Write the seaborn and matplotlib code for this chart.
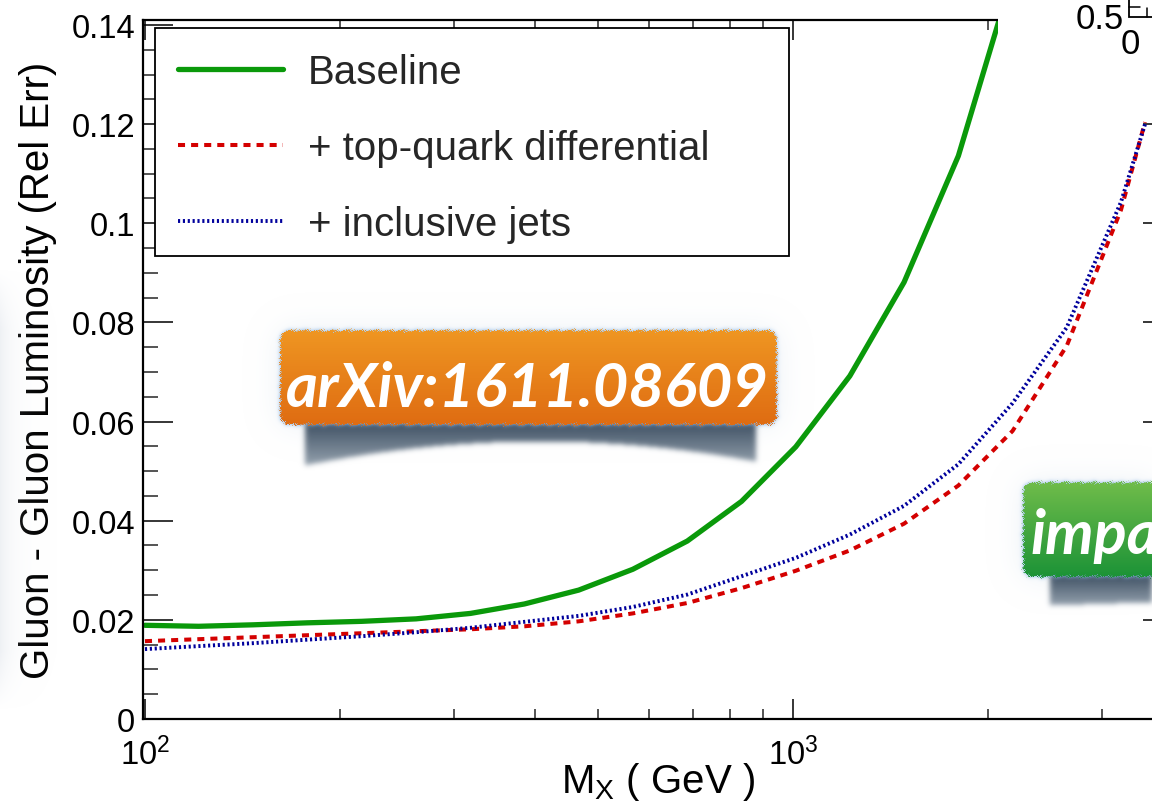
import numpy as np
import pandas as pd
import matplotlib
matplotlib.use("Agg")
import matplotlib.pyplot as plt
import seaborn as sns
from matplotlib.lines import Line2D
from matplotlib.patches import Rectangle
from matplotlib.ticker import MultipleLocator, NullFormatter

# ---------------------------------------------------------------- data
mass_gev = [100, 121, 147, 178, 216, 262, 318, 385, 467, 566, 687, 833,
            1010, 1224, 1484, 1800, 2182, 2646, 3208, 3494]
baseline = [0.0189, 0.0187, 0.0190, 0.0194, 0.0197, 0.0202, 0.0213, 0.0232,
            0.0260, 0.0302, 0.0359, 0.0439, 0.0549, 0.0692, 0.0881, 0.1136,
            0.1500]
top_diff = [0.0157, 0.0161, 0.0165, 0.0169, 0.0173, 0.0177, 0.0181, 0.0187,
            0.0197, 0.0213, 0.0234, 0.0264, 0.0299, 0.0340, 0.0394, 0.0471,
            0.0581, 0.0753, 0.1027, 0.1204]
incl_jets = [0.0141, 0.0147, 0.0153, 0.0160, 0.0167, 0.0175, 0.0184, 0.0196,
             0.0208, 0.0226, 0.0251, 0.0288, 0.0325, 0.0372, 0.0430, 0.0514,
             0.0637, 0.0790, 0.1043, 0.1200]

series_names = ["Baseline", "+ top-quark differential", "+ inclusive jets"]
series_colors = ["#0a990a", "#d40000", "#00009c"]
series_widths = [3.8, 2.9, 2.8]
series_dashes = ["", (1.75, 1.5), (0.55, 0.7)]

y_ticks = [0, 0.02, 0.04, 0.06, 0.08, 0.10, 0.12, 0.14]
y_tick_labels = ["0", "0.02", "0.04", "0.06", "0.08", "0.1", "0.12", "0.14"]
x_ticks = [100, 1000]
x_tick_labels = [r"$10^{2}$", r"$10^{3}$"]
x_minor_ticks = [200, 300, 400, 500, 600, 700, 800, 900, 2000, 3000]

badge_text = "arXiv:1611.08609"
badge2_text = "impact"

# ---------------------------------------------------------------- style
sns.set_theme(style="ticks")
plt.rcParams["font.family"] = ["Liberation Sans", "DejaVu Sans"]
plt.rcParams["mathtext.fontset"] = "custom"
plt.rcParams["mathtext.rm"] = "Liberation Sans"
plt.rcParams["mathtext.it"] = "Liberation Sans:italic"
plt.rcParams["mathtext.default"] = "regular"

W, H = 1152, 804
fig = plt.figure(figsize=(W / 100, H / 100), dpi=100)
fig.patch.set_facecolor("white")

# frame in pixel units: left 143, right 1173 (beyond the canvas), top 21, bottom 720
ax = fig.add_axes([143 / W, (H - 720) / H, (1173 - 143) / W, (720 - 21) / H])
ax.set_facecolor("white")

frames = []
for name, vals in zip(series_names, [baseline, top_diff, incl_jets]):
    frames.append(pd.DataFrame({"mass": mass_gev[:len(vals)], "err": vals, "fit": name}))
df = pd.concat(frames, ignore_index=True)

sns.lineplot(data=df, x="mass", y="err", hue="fit", style="fit", size="fit",
             hue_order=series_names, style_order=series_names, size_order=series_names,
             palette=dict(zip(series_names, series_colors)),
             dashes=dict(zip(series_names, series_dashes)),
             sizes=dict(zip(series_names, series_widths)),
             estimator=None, sort=False, legend=False, ax=ax)

ax.set_xscale("log")
ax.set_xlim(99.3, 3859)
ax.set_ylim(0, 0.141)

ax.set_xticks(x_ticks, x_tick_labels)
ax.set_xticks(x_minor_ticks, minor=True)
ax.xaxis.set_minor_formatter(NullFormatter())
ax.set_yticks(y_ticks, y_tick_labels)
ax.yaxis.set_minor_locator(MultipleLocator(0.005))

ax.tick_params(axis="y", which="major", length=21.6, width=1.1, direction="in",
               left=True, right=True, labelsize=23.5, pad=5.5, colors="black")
ax.tick_params(axis="y", which="minor", length=10.8, width=1.1, direction="in",
               left=True, right=True)
ax.tick_params(axis="x", which="major", length=14.4, width=1.1, direction="in",
               bottom=True, top=True, labelsize=23.5, pad=12.5, colors="black")
ax.tick_params(axis="x", which="minor", length=7.2, width=1.1, direction="in",
               bottom=True, top=True)
for sp in ax.spines.values():
    sp.set_linewidth(1.6)
    sp.set_color("black")
    sp.set_visible(True)

ax.set_xlabel(r"M$_{X}$ ( GeV )", fontsize=29, color="black")
ax.set_ylabel("Gluon - Gluon Luminosity (Rel Err)", fontsize=29, color="black")
ax.xaxis.set_label_coords(0.5, (720 - 761) / 699)
ax.yaxis.set_label_coords((57 - 143) / 1030, 0.5)

# legend box
leg_fs_px = 29 / 0.72
ax.add_patch(Rectangle((155 / W, 1 - 257 / H), (789 - 155) / W, (257 - 29) / H,
                       transform=fig.transFigure, facecolor="white",
                       edgecolor="black", linewidth=1.3, zorder=4, clip_on=False))
handles = [Line2D([], [], color=c, lw=w, linestyle="-" if d == "" else (0, d))
           for c, w, d in zip(series_colors, series_widths, series_dashes)]
leg = ax.legend(handles, series_names, loc="center left",
                bbox_to_anchor=(178 / W, 1 - 149 / H), bbox_transform=fig.transFigure,
                frameon=False, fontsize=29, borderpad=0, borderaxespad=0,
                handlelength=105 / leg_fs_px, handletextpad=25 / leg_fs_px,
                labelspacing=0.94)
leg.set_zorder(5)

# ---------------------------------------------------------------- badges layer
yy, xx = np.mgrid[0:H, 0:W].astype(float)
P = np.zeros((H, W, 3))
A = np.zeros((H, W))


def over(rgb, alpha):
    global P, A
    rgb = np.asarray(rgb, float)
    if rgb.ndim == 1:
        rgb = np.broadcast_to(rgb, (H, W, 3))
    a = alpha[..., None]
    P = rgb * a + P * (1 - a)
    A = alpha + A * (1 - alpha)


def blur(img, s):
    r = int(3 * s) + 1
    k = np.exp(-0.5 * (np.arange(-r, r + 1) / s) ** 2)
    k /= k.sum()
    out = np.apply_along_axis(lambda m: np.convolve(m, k, mode="same"), 0, img)
    out = np.apply_along_axis(lambda m: np.convolve(m, k, mode="same"), 1, out)
    return out


def rrect_sdf(x0, y0, x1, y1, r):
    cx, cy = (x0 + x1) / 2, (y0 + y1) / 2
    hx, hy = (x1 - x0) / 2 - r, (y1 - y0) / 2 - r
    qx = np.abs(xx - cx) - hx
    qy = np.abs(yy - cy) - hy
    outside = np.hypot(np.maximum(qx, 0), np.maximum(qy, 0))
    inside = np.minimum(np.maximum(qx, qy), 0)
    return outside + inside - r


rough = (1.3 * np.sin(xx * 1.9 + yy * 0.7) * np.sin(yy * 2.3 - xx * 0.4)
         + 0.8 * np.sin(xx * 0.45 + yy * 1.1) + 0.6 * np.sin(xx * 3.1 - yy * 2.7))


def hex_rgb(h):
    h = h.lstrip("#")
    return np.array([int(h[i:i + 2], 16) / 255 for i in (0, 2, 4)])


def badge(x0, y0, x1, y1, top_col, bot_col, sx0, sx1, s_bottom):
    d = rrect_sdf(x0, y0, x1, y1, 9) + rough
    solid = (d < 0).astype(float)
    # soft haze around the tag
    haze = blur(solid, 15)
    over((0.91, 0.935, 0.96), np.clip(haze * 1.6, 0, 1) * 0.55)
    # curled shadow underneath
    sm = ((xx >= sx0) & (xx <= sx1) & (yy >= y1 - 12) & (yy <= s_bottom(xx))).astype(float)
    sm = blur(sm, 2.6)
    bmax = s_bottom(np.array([sx0, sx1])).max()
    t = np.clip((yy - y1) / (bmax - y1), 0, 1)[..., None]
    shade = hex_rgb("#33465a") * (1 - t) + hex_rgb("#8a98a6") * t
    over(shade, sm * 0.92)
    # thin bluish rim
    rim = blur(solid, 2.0)
    over((0.55, 0.72, 0.90), np.clip(rim * 1.5, 0, 1) * 0.75)
    # the tag itself
    g = np.clip((yy - y0) / (y1 - y0), 0, 1)[..., None]
    fill = hex_rgb(top_col) * (1 - g) + hex_rgb(bot_col) * g
    over(fill, np.clip(0.5 - d, 0, 1))


# faint glow coming in from the left edge
edge = np.exp(-xx / 12.0) * np.clip((yy - 270) / 60, 0, 1) * np.clip((710 - yy) / 60, 0, 1)
over((0.86, 0.88, 0.91), edge * 0.45)

badge(280, 331, 776, 425, "#ef9622", "#df6c12", 305, 755,
      lambda x: 442 + 21 * ((x - 540) / 220) ** 2)
badge(1023, 483, 1420, 577, "#6fbc4a", "#1c9337", 1050, 1420,
      lambda x: 606 - 3 * np.clip((x - 1050) / 100, 0, 1))

rgba = np.zeros((H, W, 4))
rgba[..., 3] = A
rgba[..., :3] = np.where(A[..., None] > 1e-6, P / np.maximum(A[..., None], 1e-6), 0)

ov = fig.add_axes([0, 0, 1, 1], zorder=10)
ov.set_xlim(0, W)
ov.set_ylim(H, 0)
ov.axis("off")
ov.patch.set_alpha(0)
ov.imshow(np.clip(rgba, 0, 1), extent=(0, W, H, 0), interpolation="none", zorder=1)

tag_font = dict(family=["Lato", "Open Sans", "DejaVu Sans"], weight="bold", style="italic",
                color="white")
t1 = ov.text(527, 407, badge_text, ha="center", va="baseline", fontsize=40, zorder=3, **tag_font)
fig.canvas.draw()
wpx = t1.get_window_extent().width
fs = 40 * 483 / wpx
t1.set_fontsize(fs)
ov.text(1030, 554, badge2_text, ha="left", va="baseline", fontsize=fs, zorder=3,
        clip_on=True, **tag_font)

# neighbouring panel corner at the top right
ov.add_patch(Rectangle((998, -2), 170, 60, facecolor="white", edgecolor="none", zorder=2))
ov.plot([1129, 1129, 1160], [-2, 18, 18], color="black", lw=1.3, zorder=3,
        solid_joinstyle="miter")
ov.plot([1129, 1140], [7.5, 7.5], color="black", lw=1.1, zorder=3)
ov.plot([1147, 1147], [9, 18], color="black", lw=1.1, zorder=3)
ov.text(1124, 19.5, "0.5", ha="right", va="center", fontsize=25, color="black", zorder=3)
ov.text(1130, 45, "0", ha="center", va="center", fontsize=25, color="black", zorder=3)

fig.savefig("out.png", dpi=100, facecolor="white")
